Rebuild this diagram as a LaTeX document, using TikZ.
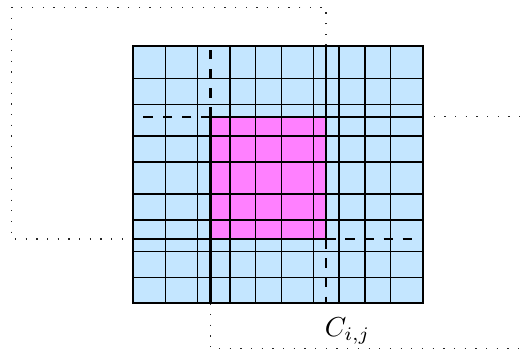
\documentclass[tikz,border=0pt]{standalone}
\usetikzlibrary{calc}
\definecolor{cellblue}{RGB}{196,230,255}
\definecolor{overlap}{RGB}{255,128,255}
\begin{document}
\begin{tikzpicture}[x=0.365pt, y=-0.365pt,
  gridln/.style={black, line width=0.4pt},
  cut/.style={black, line width=0.8pt},
  cutdash/.style={black, line width=0.8pt, dash pattern=on 3.5pt off 3.5pt},
  halo/.style={black!85, line width=0.45pt, dash pattern=on 0.45pt off 3.45pt},
]
\useasboundingbox (0,0) rectangle (522,352);
% block corners and overlap corners (pixel units, y grows downwards)
\coordinate (bnw) at (133.3,45.7);
\coordinate (bse) at (423,303.3);
\coordinate (onw) at (210.5,116.7);
\coordinate (ose) at (326,239);
% fills
\fill[cellblue] (bnw) rectangle (bse);
\fill[overlap] (onw) rectangle (ose);
% cell grid
\foreach \gx in {165.7,197.7,230,255.7,281.5,313.7,339,365,390.7}
  \draw[gridln] (\gx,0 |- bnw) -- (\gx,0 |- bse);
\foreach \gy in {78.3,104.3,136,162,194,220,251.7,277.7}
  \draw[gridln] (bnw |- 0,\gy) -- (bse |- 0,\gy);
% neighbouring blocks, outside part
\draw[halo] (bnw -| ose) -- (326,7.3) -- (11.7,7.3) -- (11.7,239) -- (bnw |- ose);
\draw[halo] (bse -| onw) -- (210.5,348.3) -- (522,348.3);
\draw[halo] (bse |- onw) -- (522,116.7);
% neighbouring blocks, inside part
\draw[cut] (bnw -| ose) -- (ose) -- (bnw |- ose);
\draw[cut] (bse -| onw) -- (onw) -- (bse |- onw);
\draw[cutdash] (onw) -- (bnw -| onw);
\draw[cutdash] (onw) -- (bnw |- onw);
\draw[cutdash] (ose) -- (bse -| ose);
\draw[cutdash] (ose) -- (bse |- ose);
% block border
\draw[cut] (bnw) rectangle (bse);
\node[anchor=base, inner sep=0pt] (lbl) at (347.5,336) {$C_{i,j}$};
\end{tikzpicture}
\end{document}
